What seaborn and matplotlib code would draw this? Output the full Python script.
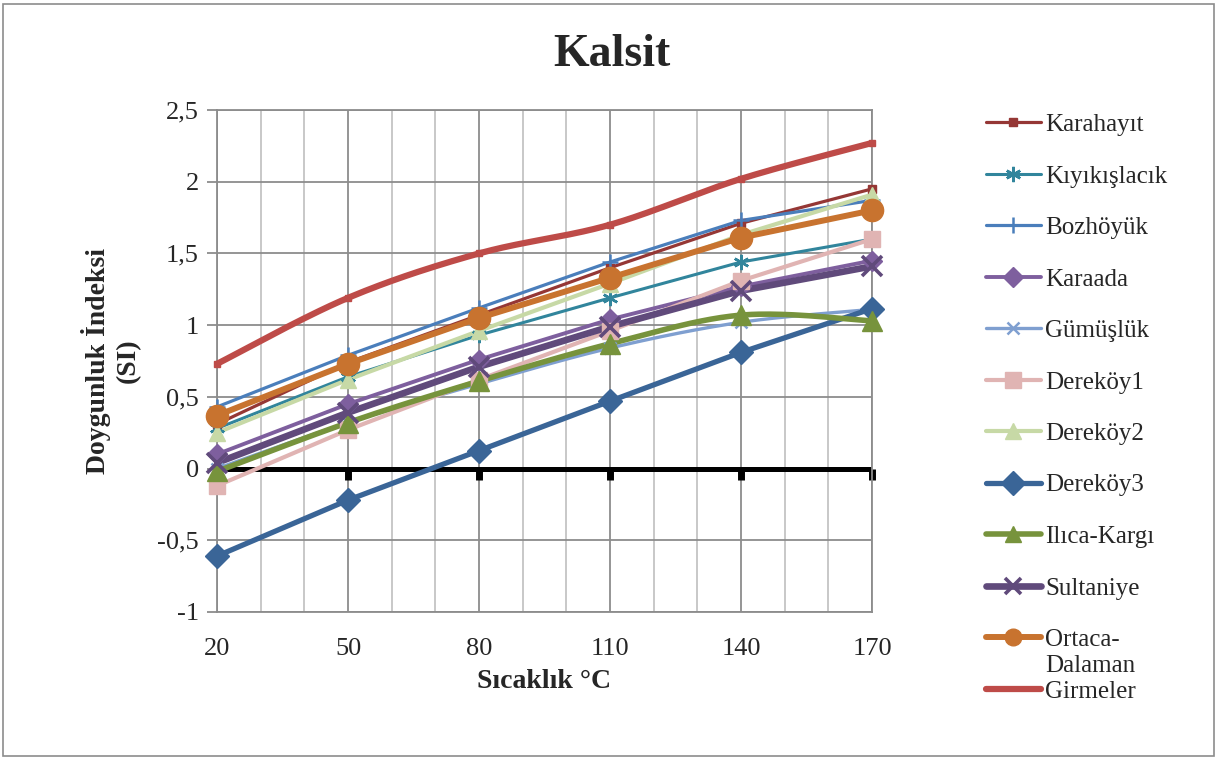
import numpy as np
import pandas as pd
import matplotlib
matplotlib.use("Agg")
import matplotlib.pyplot as plt
from matplotlib.lines import Line2D
from matplotlib.patches import Rectangle
from matplotlib.ticker import MultipleLocator, FixedLocator
from matplotlib.markers import TICKDOWN
import seaborn as sns

# Temperatures (°C) and saturation index of calcite for each spring
temps = [20, 50, 80, 110, 140, 170]

karahayit = [0.31, 0.74, 1.07, 1.40, 1.71, 1.95]
kiyikislacik = [0.28, 0.64, 0.93, 1.19, 1.44, 1.60]
bozhoyuk = [0.43, 0.79, 1.12, 1.44, 1.73, 1.87]
karaada = [0.10, 0.45, 0.76, 1.04, 1.27, 1.45]
gumusluk = [0.00, 0.32, 0.59, 0.84, 1.02, 1.11]
derekoy1 = [-0.12, 0.27, 0.62, 0.96, 1.31, 1.60]
derekoy2 = [0.25, 0.62, 0.96, 1.29, 1.63, 1.91]
derekoy3 = [-0.61, -0.22, 0.125, 0.47, 0.81, 1.115]
ilica_kargi = [-0.02, 0.32, 0.61, 0.87, 1.07, 1.03]
sultaniye = [0.04, 0.39, 0.71, 0.99, 1.24, 1.41]
ortaca_dalaman = [0.37, 0.73, 1.05, 1.33, 1.61, 1.80]
girmeler = [0.73, 1.19, 1.50, 1.70, 2.02, 2.27]

names = ["Karahayıt", "Kıyıkışlacık", "Bozhöyük", "Karaada", "Gümüşlük",
         "Dereköy1", "Dereköy2", "Dereköy3", "Ilıca-Kargı", "Sultaniye",
         "Ortaca-Dalaman", "Girmeler"]
values = [karahayit, kiyikislacik, bozhoyuk, karaada, gumusluk, derekoy1,
          derekoy2, derekoy3, ilica_kargi, sultaniye, ortaca_dalaman, girmeler]

y_ticks = [-1, -0.5, 0, 0.5, 1, 1.5, 2, 2.5]
y_ticklabels = ["-1", "-0,5", "0", "0,5", "1", "1,5", "2", "2,5"]

# colour, line width, marker, marker size, marker edge width, smoothed
styles = {
    "Karahayıt":      ("#953735", 2.3, "s", 6, 1.0, False),
    "Kıyıkışlacık":  ("#31859C", 2.2, (6, 2, 0), 11, 1.8, False),
    "Bozhöyük":      ("#4A7EBB", 2.3, "+", 11, 1.8, False),
    "Karaada":       ("#7E5F9E", 2.8, "D", 10, 1.0, False),
    "Gümüşlük":      ("#7F9FD0", 2.4, "x", 9, 1.8, True),
    "Dereköy1":      ("#E0B4B3", 3.0, "s", 11, 1.0, False),
    "Dereköy2":      ("#C7D9A6", 3.0, "^", 11, 1.0, False),
    "Dereköy3":      ("#3A6597", 3.8, "D", 12, 1.0, False),
    "Ilıca-Kargı":   ("#77933C", 4.0, "^", 15, 1.0, True),
    "Sultaniye":     ("#604A7B", 4.8, "x", 14, 2.6, False),
    "Ortaca-Dalaman": ("#C8732F", 4.3, "o", 16, 1.0, False),
    "Girmeler":      ("#BE4B48", 4.5, "s", 5, 1.0, True),
}


def smooth_curve(xs, ys, n=40):
    """Cubic Bezier smoothing through the points (Catmull-Rom tangents)."""
    pts = np.column_stack([xs, ys]).astype(float)
    ext = np.vstack([pts[0], pts, pts[-1]])
    t = np.linspace(0, 1, n)[:, None]
    segs = []
    for i in range(1, len(ext) - 2):
        p0, p1, p2, p3 = ext[i - 1], ext[i], ext[i + 1], ext[i + 2]
        c1 = p1 + (p2 - p0) / 6.0
        c2 = p2 - (p3 - p1) / 6.0
        seg = ((1 - t) ** 3) * p1 + 3 * ((1 - t) ** 2) * t * c1 \
            + 3 * (1 - t) * (t ** 2) * c2 + (t ** 3) * p2
        segs.append(seg if i == 1 else seg[1:])
    out = np.vstack(segs)
    return out[:, 0], out[:, 1]


sns.set_theme(style="white")
plt.rcParams["font.family"] = ["Liberation Serif", "DejaVu Serif"]

W, H, DPI = 1218, 759, 100
fig = plt.figure(figsize=(W / DPI, H / DPI), dpi=DPI)
fig.patch.set_facecolor("white")
ax = fig.add_axes([217 / W, 1 - 612 / H, (872 - 217) / W, (612 - 110) / H])

grid_dark = "#8C8C8C"
grid_light = "#C4C4C4"

# zero reference line with category tick marks below it
ax.axhline(0, color="black", lw=3.6, zorder=2)
ax.plot(temps, [0] * len(temps), ls="none", marker=TICKDOWN, ms=8, mew=5,
        color="black", zorder=2, clip_on=False)

legend_handles = []
for name, vals in zip(names, values):
    color, lw, marker, ms, mew, smooth = styles[name]
    if smooth:
        lx, ly = smooth_curve(temps, vals)
    else:
        lx, ly = np.array(temps, float), np.array(vals, float)
    df = pd.DataFrame({"x": lx, "y": ly})
    sns.lineplot(data=df, x="x", y="y", ax=ax, color=color, lw=lw,
                 sort=False, estimator=None, legend=False, zorder=3,
                 solid_capstyle="butt", solid_joinstyle="round",
                 clip_on=False)
    ax.plot(temps, vals, ls="none", marker=marker, ms=ms, mew=mew,
            color=color, mec=color, zorder=4, clip_on=False)
    legend_handles.append(Line2D([], [], color=color, lw=lw,
                                 marker=None if name == "Girmeler" else marker,
                                 ms=min(ms, 12), mew=mew, mec=color))

ax.set_xlim(20, 170)
ax.set_ylim(-1, 2.5)
ax.xaxis.set_major_locator(FixedLocator(temps))
ax.xaxis.set_minor_locator(MultipleLocator(10))
ax.yaxis.set_major_locator(FixedLocator(y_ticks))
ax.set_yticklabels(y_ticklabels)
ax.set_xticklabels([str(t) for t in temps])

ax.grid(True, which="major", axis="both", color=grid_dark, lw=1.3, zorder=0)
ax.grid(True, which="minor", axis="x", color=grid_light, lw=1.3, zorder=0)
ax.set_axisbelow(True)
for side in ["left", "right", "top", "bottom"]:
    ax.spines[side].set_visible(True)
    ax.spines[side].set_color(grid_dark)
    ax.spines[side].set_linewidth(1.3)

ax.tick_params(axis="y", which="major", length=7, width=1.3, color=grid_dark,
               labelsize=19, pad=6, left=True)
ax.tick_params(axis="x", which="both", length=0, labelsize=19, pad=19)

ax.set_xlabel("Sıcaklık °C", fontsize=20, fontweight="bold", labelpad=6)
ax.set_ylabel("Doygunluk İndeksi\n(SI)", fontsize=20, fontweight="bold",
              labelpad=12, linespacing=1.25)
fig.text(612 / W, 1 - 55 / H, "Kalsit", ha="center", va="center",
         fontsize=33, fontweight="bold")

legend_labels = [n if n != "Ortaca-Dalaman" else "Ortaca-" for n in names]
leg = fig.legend(legend_handles, legend_labels, loc="upper left",
                 bbox_to_anchor=(973 / W, 1 - 101 / H), frameon=False,
                 fontsize=18, handlelength=2.2, handletextpad=0.2,
                 labelspacing=1.16, numpoints=1, borderpad=0)

# second line of the wrapped legend label
fig.canvas.draw()
bb = leg.get_texts()[names.index("Ortaca-Dalaman")].get_window_extent()
fig.text(bb.x0 / W, (bb.y0 - 26) / H, "Dalaman", ha="left", va="bottom",
         fontsize=18)

# chart area border
fig.add_artist(Rectangle((3 / W, 3 / H), 1 - 7 / W, 1 - 7 / H,
                         transform=fig.transFigure, fill=False,
                         edgecolor="#8C8C8C", lw=1.2))

fig.savefig("out.png", dpi=DPI)
